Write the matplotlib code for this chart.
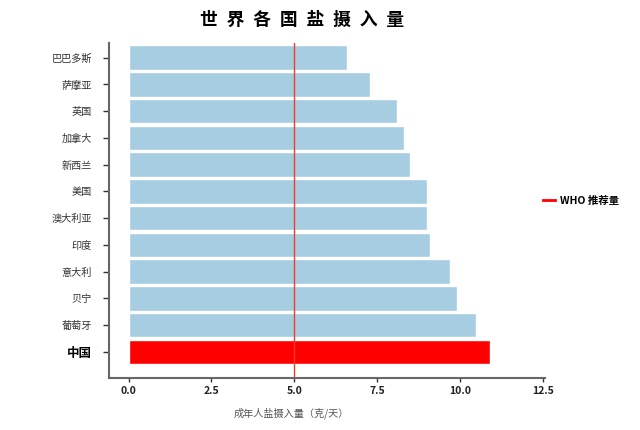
import matplotlib
matplotlib.use("Agg")
import matplotlib.pyplot as plt
import numpy as np

plt.rcParams['font.family'] = ['Noto Sans CJK SC', 'DejaVu Sans']

# data, top to bottom as in the chart
countries = ["巴巴多斯", "萨摩亚", "英国", "加拿大", "新西兰", "美国",
             "澳大利亚", "印度", "意大利", "贝宁", "葡萄牙", "中国"]
salt = [6.6, 7.3, 8.1, 8.3, 8.5, 9.0, 9.0, 9.1, 9.7, 9.9, 10.5, 10.9]
who_limit = 5.0

fig = plt.figure(figsize=(6.4, 4.3), dpi=100)
ax = fig.add_axes([108.5 / 640, 1 - 378 / 430, (545 - 108.5) / 640, (378 - 43) / 430])

ypos = np.arange(len(countries))[::-1]
colors = ["red" if c == "中国" else "#a6cde2" for c in countries]
ax.barh(ypos, salt, height=0.92, color=colors, edgecolor="white", linewidth=1)

ax.axvline(who_limit, color="#f03c2e", linewidth=1, label="WHO 推荐量")

ax.set_xlim(-0.61, 12.57)
ax.set_ylim(-0.98, 11.55)
ax.set_xticks([0, 2.5, 5, 7.5, 10, 12.5])
ax.set_xticklabels(["0.0", "2.5", "5.0", "7.5", "10.0", "12.5"],
                   fontsize=7.5, fontweight="bold", color="#222222")
ax.set_yticks(ypos)
ax.set_yticklabels(countries, fontsize=7.3, color="#333333")
for lbl in ax.get_yticklabels():
    if lbl.get_text() == "中国":
        lbl.set_fontsize(9)
        lbl.set_fontweight("bold")
        lbl.set_color("black")

for s in ["top", "right"]:
    ax.spines[s].set_visible(False)
for s in ["left", "bottom"]:
    ax.spines[s].set_color("#666666")
    ax.spines[s].set_linewidth(1.5)
ax.tick_params(axis="y", length=4, width=1, color="#333333", pad=8)
ax.tick_params(axis="x", length=3, width=1, color="#333333", pad=3)

fig.text(291 / 640, 1 - 413 / 430, "成年人盐摄入量（克/天）", fontsize=7.3,
         color="#555555", ha="center", va="center")
fig.text(302 / 640, 1 - 20 / 430, "\u2002".join("世界各国盐摄入量"), fontsize=12.8,
         fontweight="bold", ha="center", va="center")

leg = ax.legend(loc="center left", bbox_to_anchor=(0.975, 0.53), frameon=False,
                handlelength=1.15, handletextpad=0.4,
                prop={"weight": "bold", "size": 7.5})
leg.get_lines()[0].set_linewidth(2)
leg.get_lines()[0].set_color("red")

plt.savefig("out.png", dpi=100)
